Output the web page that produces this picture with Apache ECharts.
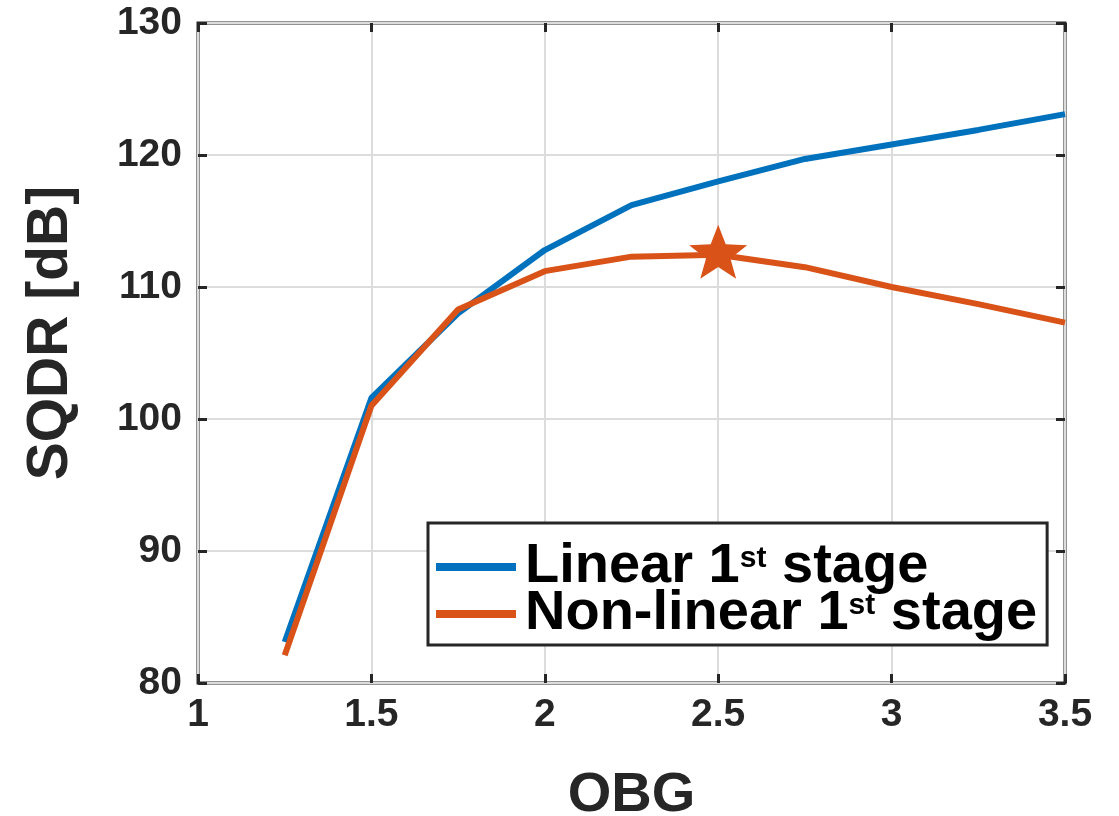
<!DOCTYPE html>
<html>
<head>
<meta charset="utf-8">
<script src="https://cdn.jsdelivr.net/npm/echarts@6/dist/echarts.min.js"></script>
<style>
html,body{margin:0;padding:0;background:#fff;}
#chart{width:1119px;height:816px;}
</style>
</head>
<body>
<div id="chart"></div>
<script>
const obg = [1.25, 1.5, 1.75, 2, 2.25, 2.5, 2.75, 3, 3.25, 3.5];
const linearSQDR = [83.1, 101.6, 108.0, 112.8, 116.2, 118.0, 119.7, 120.8, 121.9, 123.1];
const nonlinearSQDR = [82.1, 101.0, 108.3, 111.2, 112.3, 112.45, 111.5, 110.0, 108.7, 107.3];
const starPoint = [2.5, 112.45];
const seriesNames = ['Linear 1st stage', 'Non-linear 1st stage'];
const xTicks = [1, 1.5, 2, 2.5, 3, 3.5];
const yTicks = [80, 90, 100, 110, 120, 130];

const starPath = 'path://M100 0 L124.7 66 L195.1 69.1 L140 113 L158.8 180.9 L100 142 L41.2 180.9 L60 113 L4.9 69.1 L75.3 66 Z';
const FONT = '"Liberation Sans", Arial, sans-serif';
const AX = '#262626';

const chart = echarts.init(document.getElementById('chart'));
const pair = (xs, ys) => xs.map((x, i) => [x, ys[i]]);

const commonX = {type: 'value', min: xTicks[0], max: xTicks[xTicks.length-1], interval: 0.5};
const commonY = {type: 'value', min: yTicks[0], max: yTicks[yTicks.length-1], interval: 10};
const tickStyle = {show: true, inside: true, length: 9, lineStyle: {color: AX, width: 3}};

chart.setOption({
  backgroundColor: '#fff',
  animation: false,
  grid: {left: 198, right: 54, top: 23, bottom: 133, outerBoundsMode: 'none', containLabel: false,
         show: true, borderColor: AX, borderWidth: 3, backgroundColor: '#fff'},
  xAxis: [
    Object.assign({}, commonX, {
      position: 'bottom',
      name: 'OBG', nameLocation: 'middle', nameGap: 85,
      nameTextStyle: {fontFamily: FONT, fontWeight: 'bold', fontSize: 56, color: AX},
      axisLine: {show: false},
      axisTick: tickStyle,
      axisLabel: {fontFamily: FONT, fontWeight: 'bold', fontSize: 39, color: AX, margin: 13},
      splitLine: {show: true, lineStyle: {color: '#dcdcdc', width: 2}}
    }),
    Object.assign({}, commonX, {
      position: 'top',
      axisLine: {show: false},
      axisTick: tickStyle,
      axisLabel: {show: false},
      splitLine: {show: false}
    })
  ],
  yAxis: [
    Object.assign({}, commonY, {
      position: 'left',
      name: 'SQDR [dB]', nameLocation: 'middle', nameGap: 118,
      nameTextStyle: {fontFamily: FONT, fontWeight: 'bold', fontSize: 57, color: AX, padding: [0, 0, 0, 40]},
      axisLine: {show: false},
      axisTick: tickStyle,
      axisLabel: {fontFamily: FONT, fontWeight: 'bold', fontSize: 39, color: AX, margin: 16},
      splitLine: {show: true, lineStyle: {color: '#dcdcdc', width: 2}}
    }),
    Object.assign({}, commonY, {
      position: 'right',
      axisLine: {show: false},
      axisTick: tickStyle,
      axisLabel: {show: false},
      splitLine: {show: false}
    })
  ],
  legend: {
    data: seriesNames,
    orient: 'vertical',
    left: 428, top: 523,
    padding: [16, 10, 3, 8],
    borderColor: AX, borderWidth: 3, backgroundColor: '#fff',
    icon: 'rect', itemWidth: 80, itemHeight: 8, itemGap: -9,
    selectedMode: false,
    textStyle: {
      fontFamily: FONT, fontWeight: 'bold', fontSize: 56, color: '#000', lineHeight: 46, padding: [0, 0, 0, 4],
      rich: {
        s: {fontFamily: FONT, fontWeight: 'bold', fontSize: 30, color: '#000', verticalAlign: 'top', lineHeight: 30}
      }
    },
    formatter: name => name.replace(/(\d)(st|nd|rd|th)/, '$1{s|$2}')
  },
  series: [
    {
      name: seriesNames[0], type: 'line', data: pair(obg, linearSQDR),
      showSymbol: false, symbol: 'none', color: '#0072BD',
      lineStyle: {width: 6, color: '#0072BD'}, z: 3
    },
    {
      name: seriesNames[1], type: 'line', data: pair(obg, nonlinearSQDR),
      showSymbol: false, symbol: 'none', color: '#D95319',
      lineStyle: {width: 6, color: '#D95319'}, z: 4
    },
    {
      name: 'peak', type: 'scatter', data: [starPoint],
      symbol: starPath, symbolSize: [58, 54], symbolKeepAspect: false, symbolOffset: [0, -3],
      itemStyle: {color: '#D95319', opacity: 1}, z: 5
    }
  ]
});
</script>
</body>
</html>
